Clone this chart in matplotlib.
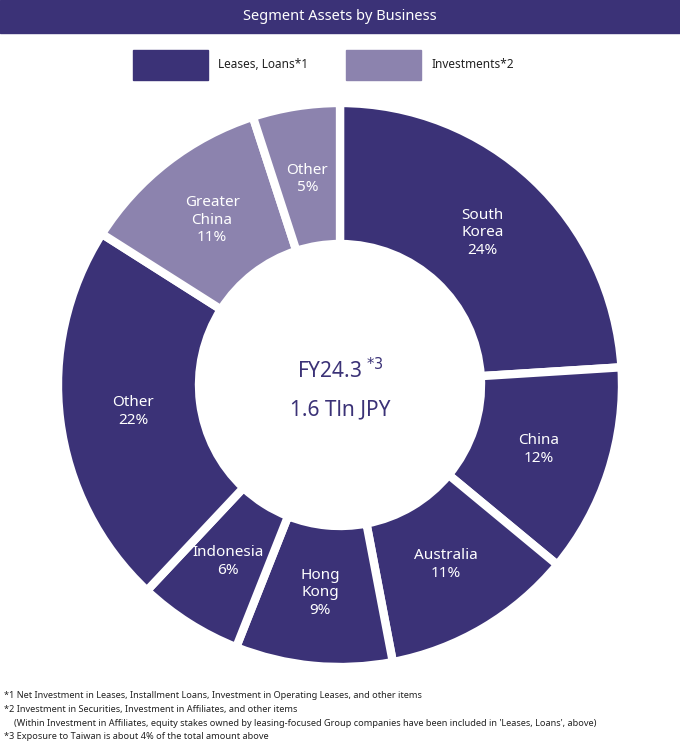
import matplotlib
matplotlib.use("Agg")
import matplotlib.pyplot as plt
from matplotlib.patches import Rectangle
import numpy as np

labels = ["South\nKorea", "China", "Australia", "Hong\nKong", "Indonesia", "Other", "Greater\nChina", "Other"]
values = [24, 12, 11, 9, 6, 22, 11, 5]
groups = ["L", "L", "L", "L", "L", "L", "I", "I"]
legend_labels = ["Leases, Loans*1", "Investments*2"]
DARK = "#3b3277"
LIGHT = "#8c83ae"
colors = [DARK if g == "L" else LIGHT for g in groups]

plt.rcParams["font.family"] = "Noto Sans"
W, H = 680, 750
fig = plt.figure(figsize=(6.8, 7.5), dpi=100)

# Title bar
fig.patches.append(Rectangle((0, 1 - 33 / H), 1, 33 / H, transform=fig.transFigure, color=DARK, zorder=0))
fig.text(0.5, 1 - 17 / H, "Segment Assets by Business", color="white", ha="center", va="center",
         fontsize=10.5, fontweight="bold")

# Legend
for (x0, lab, c) in [(133, legend_labels[0], DARK), (346, legend_labels[1], LIGHT)]:
    fig.patches.append(Rectangle((x0 / W, 1 - 80 / H), 75 / W, 30 / H, transform=fig.transFigure, color=c))
    fig.text((x0 + 85) / W, 1 - 65 / H, lab, ha="left", va="center", fontsize=8.5, color="#222222")

cx, cy, R = 340, 385, 282
ax = fig.add_axes([(cx - R) / W, (H - cy - R) / H, 2 * R / W, 2 * R / H])
wedges, _ = ax.pie(values, colors=colors, startangle=90, counterclock=False,
                   wedgeprops=dict(width=0.5, edgecolor="white", linewidth=6))
ax.set_xlim(-1, 1); ax.set_ylim(-1, 1)
ax.set_aspect("equal"); ax.axis("off")

cum = 0
for lab, v in zip(labels, values):
    mid = 90 - (cum + v / 2) * 3.6
    cum += v
    r = 0.74
    ax.text(r * np.cos(np.radians(mid)), r * np.sin(np.radians(mid)), f"{lab}\n{v}%",
            ha="center", va="center", color="white", fontsize=11, fontweight="bold", linespacing=1.25)

ax.text(0, 0.05, "FY24.3 $^{*3}$", ha="center", va="center", color=DARK, fontsize=15, fontweight="bold")
ax.text(0, -0.09, "1.6 Tln JPY", ha="center", va="center", color=DARK, fontsize=15, fontweight="bold")

notes = [
    (4, "*1 Net Investment in Leases, Installment Loans, Investment in Operating Leases, and other items"),
    (4, "*2 Investment in Securities, Investment in Affiliates, and other items"),
    (14, "(Within Investment in Affiliates, equity stakes owned by leasing-focused Group companies have been included in 'Leases, Loans', above)"),
    (4, "*3 Exposure to Taiwan is about 4% of the total amount above"),
]
for i, (x, t) in enumerate(notes):
    fig.text(x / W, 1 - (696 + i * 13.5) / H, t, ha="left", va="center", fontsize=6.6, color="#222222")

fig.savefig("out.png", dpi=100)
